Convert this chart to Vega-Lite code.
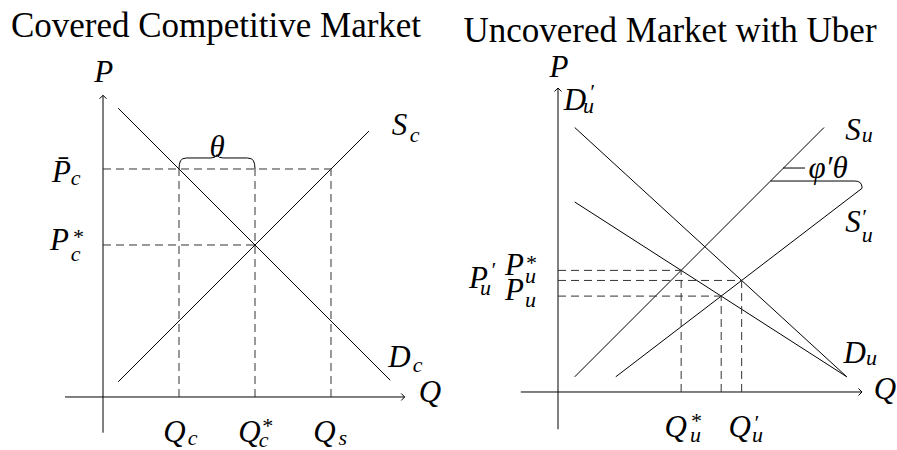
{
  "$schema": "https://vega.github.io/schema/vega-lite/v6.json",
  "autosize": {"type": "pad"},
  "padding": 0,
  "bounds": "flush",
  "spacing": 0,
  "background": "white",
  "config": {"view": {"stroke": null}, "font": "Liberation Serif"},
  "datasets": {
    "leftSeg": [
      {"kind": "axis", "q1": -0.5, "p1": 0, "q2": 3.97, "p2": 0},
      {"kind": "axis", "q1": 0, "p1": -0.47, "q2": 0, "p2": 3.97},
      {"kind": "curve", "name": "D_c", "q1": 0.2, "p1": 3.8, "q2": 3.78, "p2": 0.22},
      {"kind": "curve", "name": "S_c", "q1": 0.2, "p1": 0.2, "q2": 3.5, "p2": 3.5},
      {"kind": "guide", "q1": 0, "p1": 3, "q2": 3, "p2": 3},
      {"kind": "guide", "q1": 0, "p1": 2, "q2": 2, "p2": 2},
      {"kind": "guide", "q1": 1, "p1": 0, "q2": 1, "p2": 3},
      {"kind": "guide", "q1": 2, "p1": 0, "q2": 2, "p2": 3},
      {"kind": "guide", "q1": 3, "p1": 0, "q2": 3, "p2": 3}
    ],
    "leftArrow": [
      {"dir": "right", "q": 3.97, "p": 0},
      {"dir": "up", "q": 0, "p": 3.97}
    ],
    "leftBrace": [
      {"i": 0, "q": 1.0, "p": 3.0},
      {"i": 1, "q": 1.005, "p": 3.06},
      {"i": 2, "q": 1.02, "p": 3.11},
      {"i": 3, "q": 1.05, "p": 3.135},
      {"i": 4, "q": 1.1, "p": 3.145},
      {"i": 5, "q": 1.42, "p": 3.145},
      {"i": 6, "q": 1.47, "p": 3.155},
      {"i": 7, "q": 1.495, "p": 3.18},
      {"i": 8, "q": 1.5, "p": 3.19},
      {"i": 9, "q": 1.505, "p": 3.18},
      {"i": 10, "q": 1.53, "p": 3.155},
      {"i": 11, "q": 1.58, "p": 3.145},
      {"i": 12, "q": 1.9, "p": 3.145},
      {"i": 13, "q": 1.95, "p": 3.135},
      {"i": 14, "q": 1.98, "p": 3.11},
      {"i": 15, "q": 1.995, "p": 3.06},
      {"i": 16, "q": 2.0, "p": 3.0}
    ],
    "leftLabels": [
      {"role": "title", "t": "Covered Competitive Market", "q": 1.487, "p": 4.737},
      {"role": "main", "t": "P", "q": 0.01, "p": 4.145},
      {"role": "main", "t": "P̄", "q": -0.545, "p": 2.829},
      {"role": "sub", "t": "c", "q": -0.36, "p": 2.795},
      {"role": "main", "t": "P", "q": -0.572, "p": 1.934},
      {"role": "sub", "t": "*", "q": -0.335, "p": 2.013},
      {"role": "sub", "t": "c", "q": -0.36, "p": 1.795},
      {"role": "main", "t": "S", "q": 3.9, "p": 3.447},
      {"role": "sub", "t": "c", "q": 4.1, "p": 3.355},
      {"role": "main", "t": "D", "q": 3.9, "p": 0.395},
      {"role": "sub", "t": "c", "q": 4.14, "p": 0.329},
      {"role": "main", "t": "Q", "q": 4.303, "p": -0.066},
      {"role": "main", "t": "θ", "q": 1.5, "p": 3.158},
      {"role": "main", "t": "Q", "q": 0.94, "p": -0.592},
      {"role": "sub", "t": "c", "q": 1.18, "p": -0.632},
      {"role": "main", "t": "Q", "q": 1.927, "p": -0.592},
      {"role": "sub", "t": "*", "q": 2.155, "p": -0.474},
      {"role": "sub", "t": "c", "q": 2.115, "p": -0.658},
      {"role": "main", "t": "Q", "q": 2.914, "p": -0.592},
      {"role": "sub", "t": "s", "q": 3.155, "p": -0.632}
    ],
    "rightSeg": [
      {"kind": "axis", "q1": -0.49, "p1": 0, "q2": 4.0, "p2": 0},
      {"kind": "axis", "q1": 0, "p1": -0.49, "q2": 0, "p2": 4.0},
      {"kind": "curve", "name": "S_u", "q1": 0.22, "p1": 0.2, "q2": 3.5, "p2": 3.48},
      {"kind": "curve", "name": "D_u", "q1": 0.22, "p1": 2.5, "q2": 3.8, "p2": 0.2},
      {"kind": "curve", "name": "D'_u", "q1": 0.22, "p1": 3.48, "q2": 3.8, "p2": 0.2},
      {"kind": "curve", "name": "S'_u", "q1": 0.76, "p1": 0.2, "q2": 4.0, "p2": 2.68},
      {"kind": "curve", "name": "tick", "q1": 2.961, "p1": 2.947, "q2": 3.25, "p2": 2.947},
      {"kind": "guide", "q1": 0, "p1": 1.6003, "q2": 1.6203, "p2": 1.6003},
      {"kind": "guide", "q1": 1.6203, "p1": 0, "q2": 1.6203, "p2": 1.6003},
      {"kind": "guide", "q1": 0, "p1": 1.4678, "q2": 2.4163, "p2": 1.4678},
      {"kind": "guide", "q1": 2.4163, "p1": 0, "q2": 2.4163, "p2": 1.4678},
      {"kind": "guide", "q1": 0, "p1": 1.2618, "q2": 2.1472, "p2": 1.2618},
      {"kind": "guide", "q1": 2.1472, "p1": 0, "q2": 2.1472, "p2": 1.2618}
    ],
    "rightArrow": [
      {"dir": "right", "q": 4.0, "p": 0},
      {"dir": "up", "q": 0, "p": 4.0}
    ],
    "rightBrace": [
      {"i": 0, "q": 2.796, "p": 2.776},
      {"i": 1, "q": 3.9, "p": 2.776},
      {"i": 2, "q": 3.94, "p": 2.772},
      {"i": 3, "q": 3.97, "p": 2.76},
      {"i": 4, "q": 3.99, "p": 2.735},
      {"i": 5, "q": 4.0, "p": 2.7},
      {"i": 6, "q": 4.0, "p": 2.68}
    ],
    "rightLabels": [
      {"role": "title", "t": "Uncovered Market with Uber", "q": 1.474, "p": 4.605},
      {"role": "main", "t": "P", "q": 0.013, "p": 4.145},
      {"role": "main", "t": "D", "q": 0.224, "p": 3.711},
      {"role": "sub", "t": "′", "q": 0.44, "p": 3.855},
      {"role": "sub", "t": "u", "q": 0.4, "p": 3.665},
      {"role": "main", "t": "S", "q": 3.882, "p": 3.316},
      {"role": "sub", "t": "u", "q": 4.07, "p": 3.285},
      {"role": "main", "t": "S", "q": 3.882, "p": 2.105},
      {"role": "sub", "t": "′", "q": 4.02, "p": 2.21},
      {"role": "sub", "t": "u", "q": 4.07, "p": 1.97},
      {"role": "main", "t": "D", "q": 3.905, "p": 0.382},
      {"role": "sub", "t": "u", "q": 4.125, "p": 0.35},
      {"role": "main", "t": "Q", "q": 4.303, "p": -0.092},
      {"role": "main", "t": "Q", "q": 1.547, "p": -0.592},
      {"role": "sub", "t": "*", "q": 1.81, "p": -0.474},
      {"role": "sub", "t": "u", "q": 1.81, "p": -0.658},
      {"role": "main", "t": "Q", "q": 2.39, "p": -0.592},
      {"role": "sub", "t": "′", "q": 2.6, "p": -0.5},
      {"role": "sub", "t": "u", "q": 2.625, "p": -0.658},
      {"role": "main", "t": "P", "q": -1.045, "p": 1.368},
      {"role": "sub", "t": "′", "q": -0.86, "p": 1.513},
      {"role": "sub", "t": "u", "q": -0.955, "p": 1.27},
      {"role": "main", "t": "P", "q": -0.572, "p": 1.539},
      {"role": "sub", "t": "*", "q": -0.362, "p": 1.605},
      {"role": "sub", "t": "u", "q": -0.362, "p": 1.44},
      {"role": "main", "t": "P", "q": -0.572, "p": 1.211},
      {"role": "sub", "t": "u", "q": -0.362, "p": 1.112},
      {"role": "main", "t": "φ′θ", "q": 3.553, "p": 2.816}
    ]
  },
  "hconcat": [
    {
      "width": 448,
      "height": 450,
      "layer": [
        {
          "data": {"name": "leftSeg"},
          "transform": [{"filter": "datum.kind !== 'guide'"}],
          "mark": {"type": "rule", "color": "black", "strokeWidth": 1},
          "encoding": {
            "x": {"field": "q1", "type": "quantitative", "scale": {"domain": [-1.3553, 4.5395], "nice": false, "zero": false}, "axis": null},
            "y": {"field": "p1", "type": "quantitative", "scale": {"domain": [-0.6974, 5.2237], "nice": false, "zero": false}, "axis": null},
            "x2": {"field": "q2"},
            "y2": {"field": "p2"}
          }
        },
        {
          "data": {"name": "leftSeg"},
          "transform": [{"filter": "datum.kind === 'guide'"}],
          "mark": {"type": "rule", "color": "#333", "strokeWidth": 1, "strokeDash": [8, 5]},
          "encoding": {
            "x": {"field": "q1", "type": "quantitative"},
            "y": {"field": "p1", "type": "quantitative"},
            "x2": {"field": "q2"},
            "y2": {"field": "p2"}
          }
        },
        {
          "data": {"name": "leftBrace"},
          "mark": {"type": "line", "color": "black", "strokeWidth": 1},
          "encoding": {
            "x": {"field": "q", "type": "quantitative"},
            "y": {"field": "p", "type": "quantitative"},
            "order": {"field": "i", "type": "quantitative"}
          }
        },
        {
          "data": {"name": "leftArrow"},
          "transform": [{"filter": "datum.dir === 'right'"}],
          "mark": {"type": "point", "shape": "M-1,-1L0,0L-1,1", "filled": false, "size": 49, "color": "black", "strokeWidth": 1, "opacity": 1},
          "encoding": {
            "x": {"field": "q", "type": "quantitative"},
            "y": {"field": "p", "type": "quantitative"}
          }
        },
        {
          "data": {"name": "leftArrow"},
          "transform": [{"filter": "datum.dir === 'up'"}],
          "mark": {"type": "point", "shape": "M-1,1L0,0L1,1", "filled": false, "size": 49, "color": "black", "strokeWidth": 1, "opacity": 1},
          "encoding": {
            "x": {"field": "q", "type": "quantitative"},
            "y": {"field": "p", "type": "quantitative"}
          }
        },
        {
          "data": {"name": "leftLabels"},
          "transform": [{"filter": "datum.role === 'title'"}],
          "mark": {"type": "text", "font": "Liberation Serif", "fontSize": 35, "align": "center", "baseline": "alphabetic", "color": "black"},
          "encoding": {
            "x": {"field": "q", "type": "quantitative"},
            "y": {"field": "p", "type": "quantitative"},
            "text": {"field": "t"}
          }
        },
        {
          "data": {"name": "leftLabels"},
          "transform": [{"filter": "datum.role === 'main'"}],
          "mark": {"type": "text", "font": "Liberation Serif", "fontStyle": "italic", "fontSize": 31, "align": "center", "baseline": "alphabetic", "color": "black"},
          "encoding": {
            "x": {"field": "q", "type": "quantitative"},
            "y": {"field": "p", "type": "quantitative"},
            "text": {"field": "t"}
          }
        },
        {
          "data": {"name": "leftLabels"},
          "transform": [{"filter": "datum.role === 'sub'"}],
          "mark": {"type": "text", "font": "Liberation Serif", "fontStyle": "italic", "fontSize": 22, "align": "center", "baseline": "alphabetic", "color": "black"},
          "encoding": {
            "x": {"field": "q", "type": "quantitative"},
            "y": {"field": "p", "type": "quantitative"},
            "text": {"field": "t"}
          }
        }
      ]
    },
    {
      "width": 449,
      "height": 450,
      "layer": [
        {
          "data": {"name": "rightSeg"},
          "transform": [{"filter": "datum.kind !== 'guide'"}],
          "mark": {"type": "rule", "color": "black", "strokeWidth": 1},
          "encoding": {
            "x": {"field": "q1", "type": "quantitative", "scale": {"domain": [-1.4474, 4.4605], "nice": false, "zero": false}, "axis": null},
            "y": {"field": "p1", "type": "quantitative", "scale": {"domain": [-0.7632, 5.1579], "nice": false, "zero": false}, "axis": null},
            "x2": {"field": "q2"},
            "y2": {"field": "p2"}
          }
        },
        {
          "data": {"name": "rightSeg"},
          "transform": [{"filter": "datum.kind === 'guide'"}],
          "mark": {"type": "rule", "color": "#333", "strokeWidth": 1, "strokeDash": [8, 5]},
          "encoding": {
            "x": {"field": "q1", "type": "quantitative"},
            "y": {"field": "p1", "type": "quantitative"},
            "x2": {"field": "q2"},
            "y2": {"field": "p2"}
          }
        },
        {
          "data": {"name": "rightBrace"},
          "mark": {"type": "line", "color": "black", "strokeWidth": 1},
          "encoding": {
            "x": {"field": "q", "type": "quantitative"},
            "y": {"field": "p", "type": "quantitative"},
            "order": {"field": "i", "type": "quantitative"}
          }
        },
        {
          "data": {"name": "rightArrow"},
          "transform": [{"filter": "datum.dir === 'right'"}],
          "mark": {"type": "point", "shape": "M-1,-1L0,0L-1,1", "filled": false, "size": 49, "color": "black", "strokeWidth": 1, "opacity": 1},
          "encoding": {
            "x": {"field": "q", "type": "quantitative"},
            "y": {"field": "p", "type": "quantitative"}
          }
        },
        {
          "data": {"name": "rightArrow"},
          "transform": [{"filter": "datum.dir === 'up'"}],
          "mark": {"type": "point", "shape": "M-1,1L0,0L1,1", "filled": false, "size": 49, "color": "black", "strokeWidth": 1, "opacity": 1},
          "encoding": {
            "x": {"field": "q", "type": "quantitative"},
            "y": {"field": "p", "type": "quantitative"}
          }
        },
        {
          "data": {"name": "rightLabels"},
          "transform": [{"filter": "datum.role === 'title'"}],
          "mark": {"type": "text", "font": "Liberation Serif", "fontSize": 35, "align": "center", "baseline": "alphabetic", "color": "black"},
          "encoding": {
            "x": {"field": "q", "type": "quantitative"},
            "y": {"field": "p", "type": "quantitative"},
            "text": {"field": "t"}
          }
        },
        {
          "data": {"name": "rightLabels"},
          "transform": [{"filter": "datum.role === 'main'"}],
          "mark": {"type": "text", "font": "Liberation Serif", "fontStyle": "italic", "fontSize": 31, "align": "center", "baseline": "alphabetic", "color": "black"},
          "encoding": {
            "x": {"field": "q", "type": "quantitative"},
            "y": {"field": "p", "type": "quantitative"},
            "text": {"field": "t"}
          }
        },
        {
          "data": {"name": "rightLabels"},
          "transform": [{"filter": "datum.role === 'sub'"}],
          "mark": {"type": "text", "font": "Liberation Serif", "fontStyle": "italic", "fontSize": 22, "align": "center", "baseline": "alphabetic", "color": "black"},
          "encoding": {
            "x": {"field": "q", "type": "quantitative"},
            "y": {"field": "p", "type": "quantitative"},
            "text": {"field": "t"}
          }
        }
      ]
    }
  ]
}
